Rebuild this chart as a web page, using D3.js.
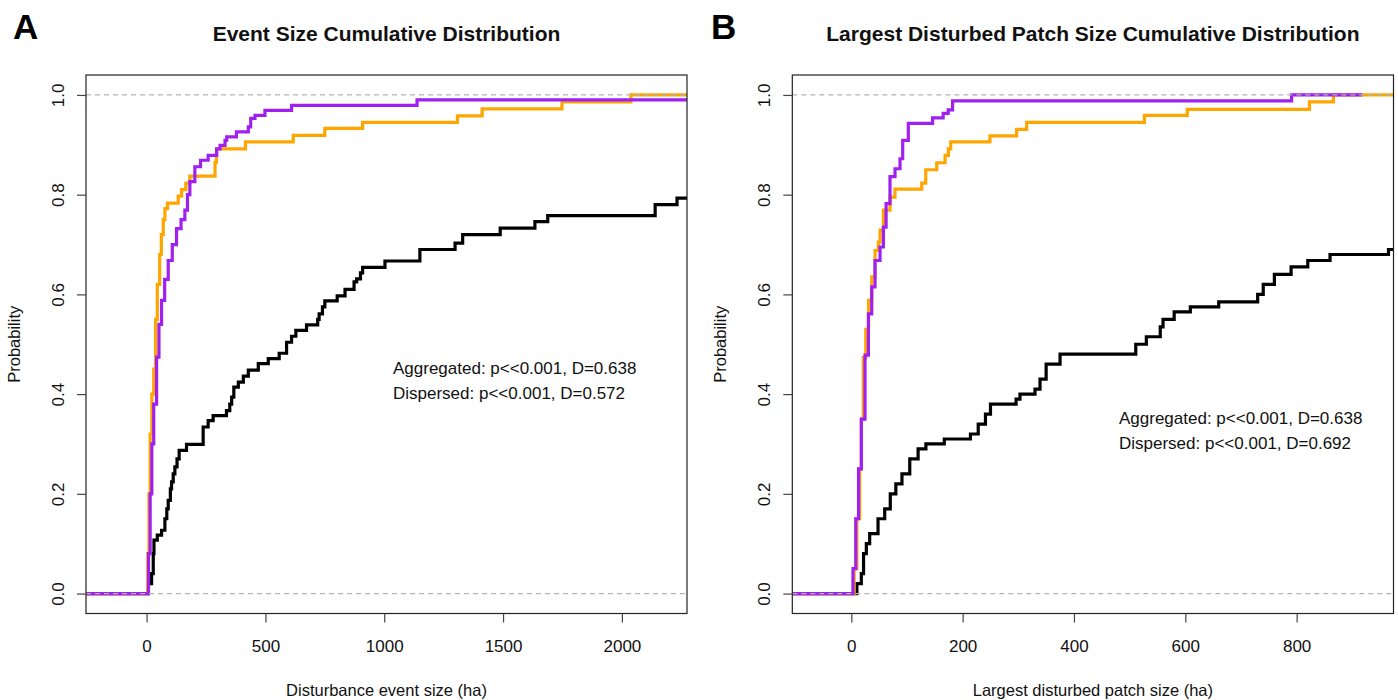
<!DOCTYPE html>
<html>
<head>
<meta charset="utf-8">
<script src="https://cdn.jsdelivr.net/npm/d3@7"></script>
<style>
  body { margin: 0; background: #fff; }
  text { font-family: "Liberation Sans", Arial, sans-serif; }
</style>
</head>
<body>
<div id="chart"></div>
<script>
// ---- data ----
var probTicks = [0, 0.2, 0.4, 0.6, 0.8, 1.0];

// panel A: event size (ha)
var xTicksA = [0, 500, 1000, 1500, 2000];
var xDomainA = [-255, 2274];
// each step: [x where the jump happens, probability after the jump]
var observedA = [[7,0.02],[21,0.04],[28,0.08],[31,0.107],[45,0.117],[63,0.127],[77,0.15],[85,0.17],[91,0.187],
  [100,0.21],[105,0.224],[112,0.24],[119,0.254],[128,0.27],[137,0.287],[168,0.299],[238,0.334],[259,0.347],
  [280,0.357],[336,0.367],[350,0.38],[358,0.394],[367,0.414],[386,0.424],[407,0.436],[428,0.448],[470,0.461],
  [512,0.471],[558,0.482],[589,0.504],[610,0.516],[628,0.528],[673,0.539],[720,0.55],[726,0.561],[740,0.575],
  [750,0.587],[802,0.597],[835,0.61],[873,0.625],[884,0.631],[900,0.643],[909,0.654],[1003,0.667],
  [1150,0.69],[1298,0.703],[1330,0.72],[1488,0.733],[1634,0.746],[1688,0.758],[2140,0.78],[2232,0.793]];
var aggregatedA = [[5,0.08],[10,0.2],[15,0.32],[22,0.4],[30,0.45],[38,0.55],[45,0.62],[55,0.68],[62,0.72],
  [70,0.75],[77,0.772],[88,0.783],[133,0.797],[147,0.81],[165,0.823],[182,0.837],[288,0.865],[294,0.892],
  [416,0.906],[617,0.919],[750,0.933],[909,0.945],[1308,0.958],[1412,0.972],[1748,0.986],[2038,1.0]];
var dispersedA = [[8,0.08],[15,0.2],[22,0.3],[30,0.38],[42,0.474],[52,0.54],[63,0.588],[76,0.63],[91,0.668],
  [108,0.7],[126,0.732],[145,0.75],[161,0.769],[172,0.8],[182,0.826],[203,0.856],[227,0.869],[259,0.879],
  [295,0.892],[309,0.899],[330,0.909],[337,0.916],[378,0.926],[428,0.936],[438,0.953],[456,0.959],
  [498,0.969],[610,0.979],[1138,0.99]];
var endA = [2274, 2274, 2274];

// panel B: largest disturbed patch size (ha)
var xTicksB = [0, 200, 400, 600, 800];
var xDomainB = [-106, 974];
var observedB = [[10,0.02],[18,0.04],[22,0.08],[27,0.1],[33,0.12],[48,0.15],[60,0.17],[70,0.2],[80,0.22],
  [91,0.24],[105,0.27],[120,0.29],[134,0.3],[167,0.31],[214,0.32],[228,0.34],[241,0.36],[250,0.38],
  [296,0.39],[303,0.4],[330,0.41],[339,0.43],[350,0.46],[375,0.48],[511,0.5],[530,0.515],[555,0.535],
  [560,0.55],[580,0.565],[609,0.575],[660,0.585],[730,0.6],[740,0.62],[760,0.64],[790,0.655],[820,0.668],
  [860,0.68],[965,0.69]];
var aggregatedB = [[5,0.05],[10,0.15],[15,0.25],[18,0.35],[21.6,0.473],[26,0.53],[31,0.588],[36.7,0.635],
  [42.6,0.688],[48.6,0.705],[51.6,0.729],[57.6,0.769],[69.5,0.795],[78.5,0.811],[126.5,0.823],[133.7,0.85],
  [153.5,0.864],[168.4,0.879],[174.4,0.892],[178.6,0.906],[249,0.918],[297,0.931],[315,0.945],
  [526.5,0.959],[603.5,0.971],[823,0.986],[866,1.0]];
var dispersedB = [[3,0.05],[8,0.15],[13,0.25],[18,0.35],[24.6,0.478],[30.7,0.561],[36.7,0.615],[42.6,0.668],
  [51.6,0.695],[57.6,0.735],[62.5,0.782],[69.5,0.836],[78.5,0.852],[87.5,0.872],[92.3,0.909],[102.4,0.943],
  [146,0.954],[165,0.963],[174,0.97],[182,0.988],[791,1.0]];
var endB = [974, 974, 918];

var seriesColors = ["#000000", "#FFA500", "#A020F0"];

// ---- layout ----
var width = 1398, height = 700;
var plotTop = 75, plotBottom = 613.5;
var svg = d3.select("#chart").append("svg")
  .attr("width", width)
  .attr("height", height);

function drawPanel(cfg) {
  var x = d3.scaleLinear().domain(cfg.xDomain).range([cfg.left, cfg.right]);
  var y = d3.scaleLinear().domain([-0.04, 1.04]).range([plotBottom, plotTop]);

  var g = svg.append("g");

  g.append("clipPath").attr("id", "clip" + cfg.id)
    .append("rect")
    .attr("x", cfg.left).attr("y", plotTop)
    .attr("width", cfg.right - cfg.left).attr("height", plotBottom - plotTop);

  // step curves: black, orange, purple (purple drawn last)
  var line = d3.line()
    .x(function(d) { return x(d[0]); })
    .y(function(d) { return y(d[1]); })
    .curve(d3.curveStepAfter);

  cfg.series.forEach(function(s, i) {
    var pts = [[cfg.xDomain[0], 0]].concat(s);
    pts.push([cfg.ends[i], s[s.length - 1][1]]);
    g.append("path")
      .attr("d", line(pts))
      .attr("clip-path", "url(#clip" + cfg.id + ")")
      .attr("fill", "none")
      .attr("stroke", seriesColors[i])
      .attr("stroke-width", 3.2);
  });

  // grey dashed lines at 0 and 1
  [0, 1].forEach(function(v) {
    g.append("line")
      .attr("x1", cfg.left).attr("x2", cfg.right)
      .attr("y1", y(v)).attr("y2", y(v))
      .attr("stroke", "#b3b3b3")
      .attr("stroke-width", 1.3)
      .attr("stroke-dasharray", "5,4");
  });

  // box
  g.append("rect")
    .attr("x", cfg.left).attr("y", plotTop)
    .attr("width", cfg.right - cfg.left).attr("height", plotBottom - plotTop)
    .attr("fill", "none").attr("stroke", "#222").attr("stroke-width", 1.2);

  // x axis
  var xAxis = g.append("g")
    .attr("transform", "translate(0," + plotBottom + ")")
    .call(d3.axisBottom(x).tickValues(cfg.xTicks).tickSize(9).tickPadding(17).tickFormat(d3.format("d")));
  xAxis.select(".domain").remove();
  xAxis.selectAll("line").attr("stroke", "#444").attr("stroke-width", 1.2);
  xAxis.selectAll("text").attr("font-size", 17).attr("fill", "#111")
    .style("font-family", "Liberation Sans, Arial, sans-serif");

  // y axis with rotated labels
  var yAxis = g.append("g")
    .attr("transform", "translate(" + cfg.left + ",0)")
    .call(d3.axisLeft(y).tickValues(probTicks).tickSize(9).tickFormat(d3.format(".1f")));
  yAxis.select(".domain").remove();
  yAxis.selectAll("line").attr("stroke", "#444").attr("stroke-width", 1.2);
  yAxis.selectAll("text")
    .attr("font-size", 17).attr("fill", "#111")
    .attr("x", null).attr("dy", null)
    .attr("text-anchor", "middle")
    .attr("transform", "translate(-28,0) rotate(-90)")
    .attr("y", 6)
    .style("font-family", "Liberation Sans, Arial, sans-serif");

  var cx = (cfg.left + cfg.right) / 2;

  g.append("text")
    .attr("x", cx).attr("y", 696)
    .attr("text-anchor", "middle")
    .attr("font-size", 16.5).attr("fill", "#111")
    .text(cfg.xLabel);

  g.append("text")
    .attr("transform", "translate(" + (cfg.left - 66) + "," + ((plotTop + plotBottom) / 2) + ") rotate(-90)")
    .attr("text-anchor", "middle")
    .attr("font-size", 16.5).attr("fill", "#111")
    .text("Probability");

  g.append("text")
    .attr("x", cx).attr("y", 41)
    .attr("text-anchor", "middle")
    .attr("font-size", 21).attr("font-weight", "bold").attr("fill", "#111")
    .text(cfg.title);

  g.append("text")
    .attr("x", cfg.letterX).attr("y", 39)
    .attr("font-size", 35).attr("font-weight", "bold").attr("fill", "#000")
    .text(cfg.letter);

  cfg.notes.forEach(function(n, i) {
    g.append("text")
      .attr("x", cfg.noteX).attr("y", cfg.noteY + i * 25)
      .attr("font-size", 17).attr("fill", "#111")
      .text(n);
  });
}

drawPanel({
  id: "A", letter: "A", letterX: 13,
  left: 86, right: 687,
  xDomain: xDomainA, xTicks: xTicksA, ends: endA,
  series: [observedA, aggregatedA, dispersedA],
  title: "Event Size Cumulative Distribution",
  xLabel: "Disturbance event size (ha)",
  notes: ["Aggregated: p<<0.001, D=0.638", "Dispersed: p<<0.001, D=0.572"],
  noteX: 393, noteY: 374
});

drawPanel({
  id: "B", letter: "B", letterX: 711,
  left: 792.3, right: 1393.5,
  xDomain: xDomainB, xTicks: xTicksB, ends: endB,
  series: [observedB, aggregatedB, dispersedB],
  title: "Largest Disturbed Patch Size Cumulative Distribution",
  xLabel: "Largest disturbed patch size (ha)",
  notes: ["Aggregated: p<<0.001, D=0.638", "Dispersed: p<<0.001, D=0.692"],
  noteX: 1119, noteY: 424
});
</script>
</body>
</html>
